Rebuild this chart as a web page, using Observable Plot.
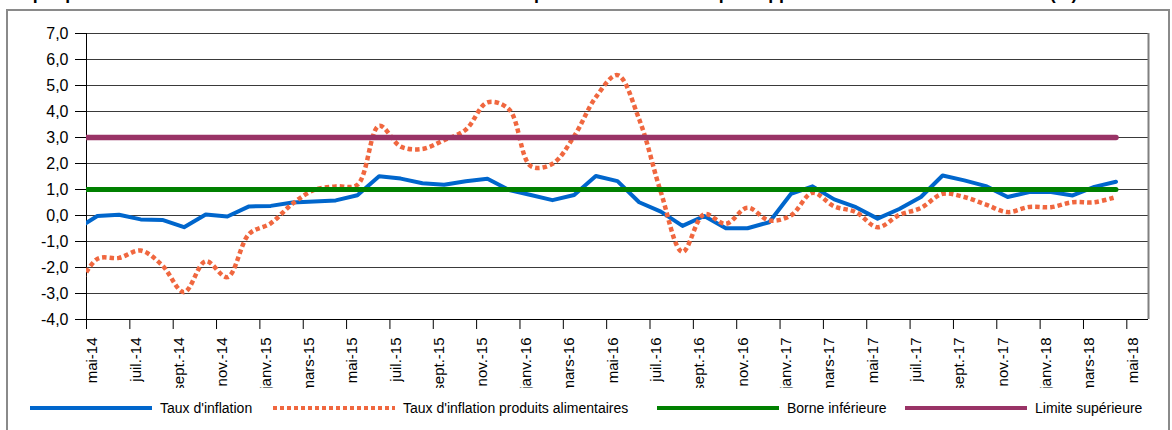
<!DOCTYPE html>
<html>
<head>
<meta charset="utf-8">
<script src="https://cdn.jsdelivr.net/npm/d3@7"></script>
<script src="https://cdn.jsdelivr.net/npm/@observablehq/plot@0.6"></script>
<style>
  body { margin: 0; background: #fff; font-family: Arial, "Liberation Sans", sans-serif; }
  #wrap { position: relative; width: 1172px; height: 430px; overflow: hidden; background: #fff; }
  #title { position: absolute; left: 2px; top: -15.5px; font-weight: bold; font-size: 17.8px; line-height: 17.8px; white-space: nowrap; color: #000; }
  #frame { position: absolute; left: 6px; top: 9px; width: 1164px; height: 440px; border: 2px solid #8a8a8a; box-sizing: border-box; background: #fff; }
  #chart { position: absolute; left: 8px; top: 11px; }
  #legend { position: absolute; top: 399px; left: 0; width: 1172px; height: 18px; font-size: 14px; color: #000; }
  .item { position: absolute; top: 0; height: 18px; display: flex; align-items: center; white-space: nowrap; }
  .item svg { display: block; margin-right: 8px; }
</style>
</head>
<body>
<div id="wrap">
  <div id="title">Graphique 3 : Evolution de l'inflation totale et de l'inflation des produits alimentaires par rapport à la norme communautaire (%)</div>
  <div id="frame"></div>
  <div id="chart"></div>
  <div id="legend"></div>
</div>
<script>
// ---- Data (monthly, avr.-14 .. avr.-18; each value sits mid-month) ----
const months = ["avr.-14","mai-14","juin-14","juil.-14","août-14","sept.-14","oct.-14","nov.-14","déc.-14",
  "janv.-15","févr.-15","mars-15","avr.-15","mai-15","juin-15","juil.-15","août-15","sept.-15","oct.-15","nov.-15","déc.-15",
  "janv.-16","févr.-16","mars-16","avr.-16","mai-16","juin-16","juil.-16","août-16","sept.-16","oct.-16","nov.-16","déc.-16",
  "janv.-17","févr.-17","mars-17","avr.-17","mai-17","juin-17","juil.-17","août-17","sept.-17","oct.-17","nov.-17","déc.-17",
  "janv.-18","févr.-18","mars-18","avr.-18"];

const tauxInflation = [-0.54, -0.02, 0.03, -0.15, -0.17, -0.45, 0.04, -0.04, 0.35,
  0.37, 0.50, 0.54, 0.58, 0.78, 1.51, 1.42, 1.24, 1.18, 1.32, 1.41, 0.98,
  0.79, 0.59, 0.79, 1.52, 1.32, 0.51, 0.15, -0.40, -0.02, -0.49, -0.49, -0.26,
  0.83, 1.12, 0.62, 0.32, -0.12, 0.25, 0.71, 1.54, 1.35, 1.13, 0.71, 0.90,
  0.90, 0.77, 1.10, 1.30];

const tauxAlimentaires = [-2.95, -1.67, -1.63, -1.35, -1.92, -2.95, -1.76, -2.37, -0.71,
  -0.30, 0.45, 0.98, 1.12, 1.18, 3.45, 2.65, 2.56, 2.90, 3.30, 4.35, 4.08,
  1.90, 1.99, 3.05, 4.55, 5.40, 3.70, 0.90, -1.40, 0.05, -0.32, 0.30, -0.19,
  0.00, 0.87, 0.35, 0.13, -0.45, 0.02, 0.29, 0.83, 0.71, 0.42, 0.13, 0.33,
  0.32, 0.51, 0.51, 0.71];

const borneInferieure = 1.0;
const limiteSuperieure = 3.0;

const xTickLabels = ["mai-14","juil.-14","sept.-14","nov.-14","janv.-15","mars-15","mai-15","juil.-15",
  "sept.-15","nov.-15","janv.-16","mars-16","mai-16","juil.-16","sept.-16","nov.-16","janv.-17",
  "mars-17","mai-17","juil.-17","sept.-17","nov.-17","janv.-18","mars-18","mai-18"];

const yTicks = [-4, -3, -2, -1, 0, 1, 2, 3, 4, 5, 6, 7];

const seriesNames = ["Taux d'inflation", "Taux d'inflation produits alimentaires", "Borne inférieure", "Limite supérieure"];
const seriesColors = ["#0066CC", "#F0673F", "#008000", "#993366"];

// month index measured from the mai-14 tick; values are plotted mid-month
const mx = (d, i) => i - 1 + 0.5;
const fmt = d => d.toFixed(1).replace(".", ",");

const chart = Plot.plot({
  width: 1160,
  height: 377,
  marginLeft: 78,
  marginRight: 20,
  marginTop: 22,
  marginBottom: 69,
  x: {type: "linear", domain: [0, xTickLabels.length * 2 - 1], axis: null},
  y: {domain: [-4, 7], axis: null},
  style: {fontFamily: 'Arial, "Liberation Sans", sans-serif', color: "#000", background: "transparent", overflow: "hidden"},
  marks: [
    Plot.ruleY(yTicks, {stroke: "#3a3a3a", strokeWidth: 1}),
    Plot.axisY({ticks: yTicks, tickSize: 11, tickPadding: 7, tickFormat: fmt, fontSize: 16, label: null, anchor: "left", stroke: "#000"}),
    Plot.axisX({ticks: xTickLabels.map((d, j) => 2 * j), tickSize: 10, tickFormat: () => "", label: null, anchor: "bottom", stroke: "#000"}),
    Plot.text(xTickLabels, {x: (d, j) => 2 * j + 0.5, text: d => d, frameAnchor: "bottom", dy: 18, rotate: -90, textAnchor: "end", fontSize: 15, fill: "#000"}),
    Plot.ruleX([0], {stroke: "#000", strokeWidth: 1}),
    Plot.ruleX([xTickLabels.length * 2 - 1], {stroke: "#808080", strokeWidth: 2}),
    Plot.ruleY([-4], {stroke: "#000", strokeWidth: 1}),
    Plot.line(tauxInflation, {x: mx, y: d => d, stroke: seriesColors[0], strokeWidth: 4, strokeLinejoin: "round", clip: true}),
    Plot.line(tauxAlimentaires, {x: mx, y: d => d, stroke: seriesColors[1], strokeWidth: 4.5, strokeDasharray: "4.5,3", strokeLinecap: "butt", curve: "catmull-rom", clip: true}),
    Plot.line(months, {x: mx, y: () => borneInferieure, stroke: seriesColors[2], strokeWidth: 5, clip: true}),
    Plot.line(months, {x: mx, y: () => limiteSuperieure, stroke: seriesColors[3], strokeWidth: 5.5, clip: true})
  ]
});
chart.style.overflow = "hidden";
document.getElementById("chart").appendChild(chart);

// ---- Legend ----
const legendLeft = [30, 273, 657, 905];
const legendDash = [null, "4,3", null, null];
const legend = document.getElementById("legend");
seriesNames.forEach((name, i) => {
  const item = document.createElement("div");
  item.className = "item";
  item.style.left = legendLeft[i] + "px";
  const ns = "http://www.w3.org/2000/svg";
  const s = document.createElementNS(ns, "svg");
  s.setAttribute("width", 122); s.setAttribute("height", 18);
  const l = document.createElementNS(ns, "line");
  l.setAttribute("x1", 0); l.setAttribute("x2", 122);
  l.setAttribute("y1", 9); l.setAttribute("y2", 9);
  l.setAttribute("stroke", seriesColors[i]);
  l.setAttribute("stroke-width", 4);
  if (legendDash[i]) l.setAttribute("stroke-dasharray", legendDash[i]);
  s.appendChild(l);
  item.appendChild(s);
  const t = document.createElement("span");
  t.textContent = name;
  item.appendChild(t);
  legend.appendChild(item);
});
</script>
</body>
</html>
